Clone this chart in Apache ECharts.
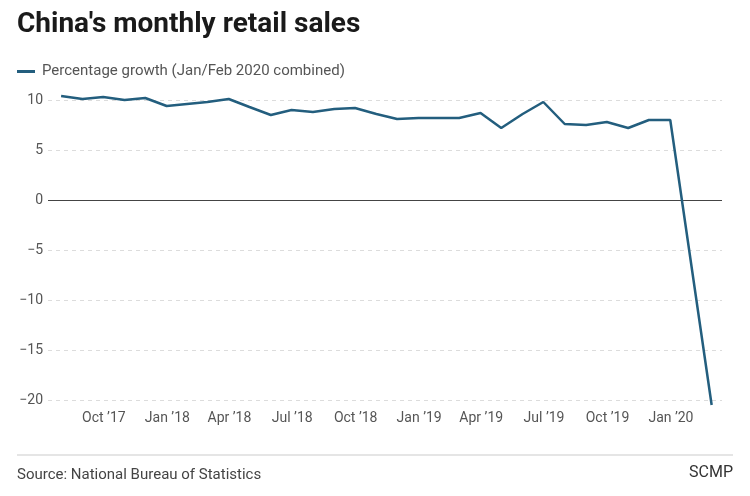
<!DOCTYPE html>
<html>
<head>
<meta charset="utf-8">
<script src="https://cdn.jsdelivr.net/npm/echarts@6/dist/echarts.min.js"></script>
<style>
html,body{margin:0;padding:0;background:#fff;}
#chart{width:750px;height:496px;}
</style>
</head>
<body>
<div id="chart"></div>
<script>
// Month of each reading (Jan/Feb combined readings are shown at February)
var months = ["2017-07","2017-08","2017-09","2017-10","2017-11","2017-12",
  "2018-02","2018-03","2018-04","2018-05","2018-06","2018-07","2018-08","2018-09","2018-10","2018-11","2018-12",
  "2019-02","2019-03","2019-04","2019-05","2019-06","2019-07","2019-08","2019-09","2019-10","2019-11","2019-12",
  "2020-02"];
// Year-on-year percentage growth of retail sales
var growth = [10.4,10.1,10.3,10.0,10.2,9.4,
  9.8,10.1,9.3,8.5,9.0,8.8,9.1,9.2,8.6,8.1,8.2,
  8.2,8.7,7.2,8.6,9.8,7.6,7.5,7.8,7.2,8.0,8.0,
  -20.5];
// X-axis tick months
var tickMonths = ["2017-10","2018-01","2018-04","2018-07","2018-10","2019-01","2019-04","2019-07","2019-10","2020-01"];
// Y-axis ticks
var yTicks = [10,5,0,-5,-10,-15,-20];

var monthNames = ["Jan","Feb","Mar","Apr","May","Jun","Jul","Aug","Sep","Oct","Nov","Dec"];
function endOfMonth(s){ var p=s.split("-"); return Date.UTC(+p[0], +p[1], 0); }
function startOfMonth(s){ var p=s.split("-"); return Date.UTC(+p[0], +p[1]-1, 1); }

var seriesData = months.map(function(m,i){ return [endOfMonth(m), growth[i]]; });
var tickValues = tickMonths.map(startOfMonth);

var FONT = "Roboto, 'Noto Sans', sans-serif";
var chart = echarts.init(document.getElementById('chart'), null, {renderer:'canvas'});
chart.setOption({
  backgroundColor:'#ffffff',
  animation:false,
  title:{
    text:"China's monthly retail sales",
    left:12, top:6,
    textStyle:{fontFamily:FONT, fontSize:28, fontWeight:'bold', color:'#1a1a1a'}
  },
  legend:{
    left:12, top:59,
    itemWidth:18, itemHeight:3, itemGap:10,
    icon:'rect',
    textStyle:{fontFamily:FONT, fontSize:15, color:'#555', padding:[0,0,0,2]},
    data:['Percentage growth (Jan/Feb 2020 combined)']
  },
  grid:{left:48, right:28, top:100, bottom:96, containLabel:false},
  xAxis:{
    type:'value',
    min:Date.UTC(2017,6,12),
    max:Date.UTC(2020,2,15),
    axisLine:{show:false},
    axisTick:{show:false},
    splitLine:{show:false},
    axisLabel:{
      customValues:tickValues,
      margin:11,
      fontFamily:FONT, fontSize:14, color:'#555',
      formatter:function(v){ var d=new Date(v); return monthNames[d.getUTCMonth()]+" \u2019"+String(d.getUTCFullYear()).slice(2); }
    }
  },
  yAxis:{
    type:'value',
    min:-20, max:10, interval:5,
    axisLine:{show:false},
    axisTick:{show:false},
    axisLabel:{
      margin:5,
      fontFamily:FONT, fontSize:14, color:'#555',
      formatter:function(v){ return v<0 ? "\u2212"+Math.abs(v) : String(v); }
    },
    splitLine:{show:true, lineStyle:{color:'#dcdcdc', type:[4,4], width:1}}
  },
  series:[{
    name:'Percentage growth (Jan/Feb 2020 combined)',
    type:'line',
    data:seriesData,
    clip:false,
    showSymbol:false,
    symbol:'none',
    color:'#235e7e',
    lineStyle:{color:'#235e7e', width:2.5},
    markLine:{
      silent:true, symbol:'none',
      label:{show:false},
      lineStyle:{color:'#444', type:'solid', width:1},
      data:[{yAxis:0}],
      z:1
    }
  }],
  graphic:[
    {type:'line', shape:{x1:17,y1:455,x2:733,y2:455}, style:{stroke:'#dddddd', lineWidth:1.5}},
    {type:'text', left:17, top:468, style:{text:'Source: National Bureau of Statistics', font:'15px '+FONT, fill:'#444'}},
    {type:'text', right:17, top:465, style:{text:'SCMP', font:'16px '+FONT, fill:'#333'}}
  ]
});
</script>
</body>
</html>
